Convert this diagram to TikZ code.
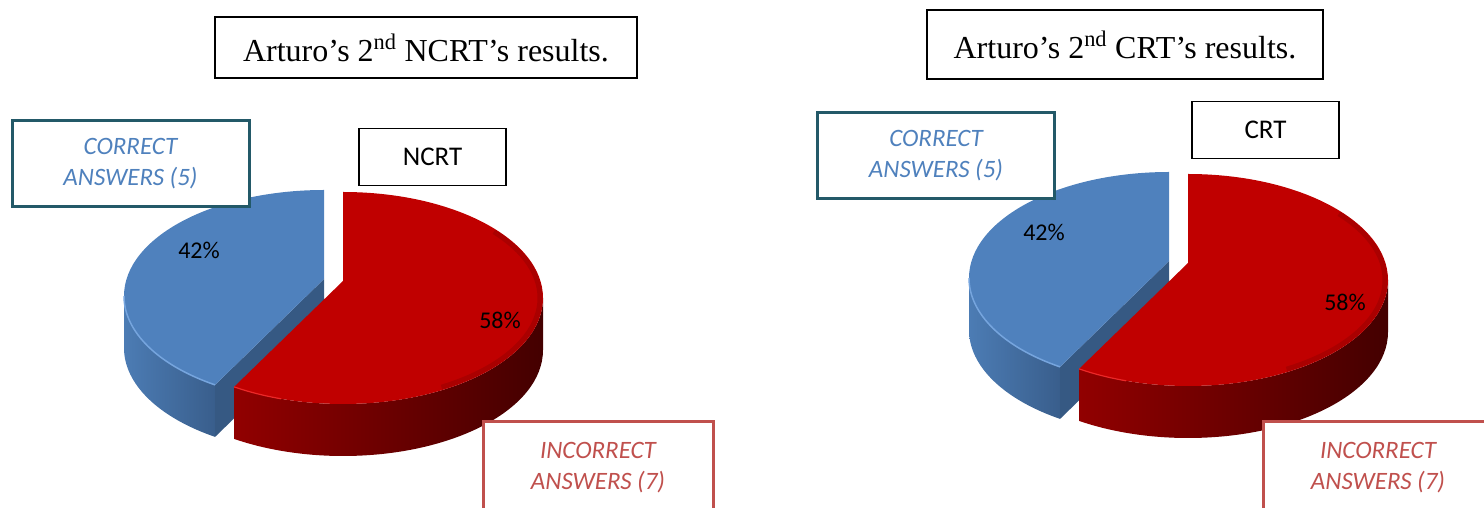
\documentclass[tikz,border=0pt]{standalone}
\usepackage{fontspec}
\setmainfont{Liberation Serif}
\newfontfamily\calibri{Carlito}
\usepackage{tikz}
\usetikzlibrary{positioning}
\definecolor{pieblue}{RGB}{79,129,189}
\definecolor{bluerim}{RGB}{118,165,222}
\definecolor{bluesidea}{RGB}{76,124,180}
\definecolor{bluesideb}{RGB}{57,94,140}
\definecolor{bluecut}{RGB}{54,89,131}
\definecolor{piered}{RGB}{192,0,0}
\definecolor{redrim}{RGB}{235,40,40}
\definecolor{redsidea}{RGB}{145,0,0}
\definecolor{redsideb}{RGB}{68,0,0}
\definecolor{tealbox}{RGB}{35,89,104}
\definecolor{redbox}{RGB}{192,80,77}
\newcommand{\ordinal}[1]{\raisebox{3pt}{\textsuperscript{#1}}}
% exploded 3d pie, #1 = centre of the red slice, #2 = prefix of the node names
\newcommand{\drawpie}[2]{%
  \begin{scope}[shift={#1}]
    \begin{scope}[shift={(-19,2)}]
      \shade[left color=bluesidea, right color=bluesideb] (180:200 and 106) arc[start angle=180, end angle=237, x radius=200, y radius=106] -- ++(0,-52) arc[start angle=237, end angle=180, x radius=200, y radius=106] -- cycle;
      \fill[bluecut] (0,17) -- (237:200 and 106) -- ++(0,-52) -- (0,-35) -- cycle;
      \fill[pieblue] (0,17) -- (0,106) arc[start angle=90, end angle=237, x radius=200, y radius=106] -- cycle;
      \draw[bluerim, line width=1.5pt] (180:200 and 106) arc[start angle=180, end angle=237, x radius=200, y radius=106];
      \node(#2-blue)[pct] at (-125,46) {42\%};
    \end{scope}
    \shade[left color=redsidea, right color=redsideb] (237:200 and 106) arc[start angle=237, end angle=360, x radius=200, y radius=106] -- ++(0,-52) arc[start angle=360, end angle=237, x radius=200, y radius=106] -- cycle;
    \fill[piered] (0,17) -- (0,106) arc[start angle=90, end angle=-123, x radius=200, y radius=106] -- cycle;
    \draw[piered!75!black, line width=5pt, opacity=0.45] (40:197 and 103) arc[start angle=40, end angle=-60, x radius=197, y radius=103];
    \draw[redrim, line width=1.2pt] (237:200 and 106) arc[start angle=237, end angle=252, x radius=200, y radius=106];
    \node(#2-red)[pct] at (157,-22) {58\%};
  \end{scope}}

\begin{document}
\begin{tikzpicture}[x=1pt, y=1pt,
	titlebox/.style={draw, fill=white, line width=1.5pt, font=\fontsize{32}{36}\selectfont},
	testbox/.style={draw, fill=white, line width=1.5pt, minimum width=147pt, minimum height=57pt, font=\calibri\fontsize{27}{30}\selectfont},
	correctbox/.style={draw=tealbox, fill=white, line width=3pt, text=pieblue, align=center, minimum width=237pt, minimum height=86pt, font=\calibri\itshape\fontsize{25}{31}\selectfont},
	incorrectbox/.style={draw=redbox, fill=white, line width=3pt, text=redbox, align=center, minimum width=230pt, minimum height=91pt, font=\calibri\itshape\fontsize{25}{31}\selectfont},
	pct/.style={font=\calibri\fontsize{24}{28}\selectfont}]
	\useasboundingbox (0,0) rectangle (1484,508);
	\clip (0,0) rectangle (1484,508);
	%izq
	\drawpie{(343,210)}{l}
	\node(t1)[titlebox, minimum width=422pt, minimum height=61pt] at (426,460.5) {Arturo’s 2\ordinal{nd} NCRT’s results.};
	\node(c1)[correctbox] at (130.5,344) {CORRECT\\ANSWERS (5)};
	\node(n1)[testbox] at (432.5,351) {NCRT};
	\node(i1)[incorrectbox] at (598,40.5) {INCORRECT\\ANSWERS (7)};
	%der
	\drawpie{(1188,228)}{r}
	\node(t2)[titlebox, minimum width=396pt, minimum height=69pt] at (1125,463.5) {Arturo’s 2\ordinal{nd} CRT’s results.};
	\node(c2)[correctbox] at (936,352) {CORRECT\\ANSWERS (5)};
	\node(n2)[testbox] at (1265.5,378) {CRT};
	\node(i2)[incorrectbox] at (1378,40.5) {INCORRECT\\ANSWERS (7)};
\end{tikzpicture}
\end{document}
